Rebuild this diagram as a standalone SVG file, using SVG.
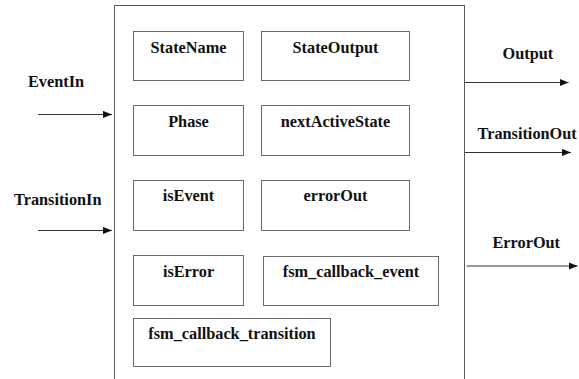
<svg xmlns="http://www.w3.org/2000/svg" width="579" height="379" viewBox="0 0 579 379">
  <defs>
    <marker id="arrow" viewBox="0 0 10 8" refX="10" refY="4" markerWidth="9" markerHeight="8" markerUnits="userSpaceOnUse" orient="auto">
      <path d="M0,0 L10,4 L0,8 Z" fill="#111"/>
    </marker>
    <style>
      .lbl { font-family: 'Liberation Serif', 'Times New Roman', serif; font-weight: bold; font-size: 16.3px; fill: #111; }
      .box { fill: #fff; stroke: #6b6b6b; stroke-width: 1; }
      .frame { fill: #fff; stroke: #5a5a5a; stroke-width: 1; }
      .wire { stroke: #333; stroke-width: 1; fill: none; marker-end: url(#arrow); }
      .mid { text-anchor: middle; }
    </style>
  </defs>

  <rect width="579" height="379" fill="#fff"/>

  <!-- FSM block outline, open at the bottom edge -->
  <g id="fsm">
    <rect class="frame" x="114.5" y="5.5" width="350" height="400"/>
  </g>

  <g id="stateName">
    <rect class="box" x="133.5" y="31.5" width="110" height="49"/>
    <text class="lbl mid" x="188.5" y="52.5">StateName</text>
  </g>
  <g id="stateOutput">
    <rect class="box" x="261.5" y="31.5" width="148" height="49"/>
    <text class="lbl mid" x="335.5" y="52.5">StateOutput</text>
  </g>
  <g id="phase">
    <rect class="box" x="133.5" y="105.5" width="110" height="50"/>
    <text class="lbl mid" x="188.5" y="127">Phase</text>
  </g>
  <g id="nextActiveState">
    <rect class="box" x="261.5" y="105.5" width="148" height="50"/>
    <text class="lbl mid" x="335.5" y="127">nextActiveState</text>
  </g>
  <g id="isEvent">
    <rect class="box" x="133.5" y="180.5" width="110" height="50"/>
    <text class="lbl mid" x="188.5" y="201">isEvent</text>
  </g>
  <g id="errorOut">
    <rect class="box" x="261.5" y="180.5" width="148" height="50"/>
    <text class="lbl mid" x="335.5" y="201">errorOut</text>
  </g>
  <g id="isError">
    <rect class="box" x="133.5" y="255.5" width="110" height="50"/>
    <text class="lbl mid" x="188.5" y="276.5">isError</text>
  </g>
  <g id="fsmCallbackEvent">
    <rect class="box" x="263.5" y="256.5" width="175" height="49"/>
    <text class="lbl mid" x="351" y="276.5">fsm_callback_event</text>
  </g>
  <g id="fsmCallbackTransition">
    <rect class="box" x="133.5" y="318.5" width="197" height="48"/>
    <text class="lbl mid" x="232" y="338.5">fsm_callback_transition</text>
  </g>

  <!-- port labels -->
  <g id="ports">
    <text class="lbl" x="28" y="87">EventIn</text>
    <text class="lbl" x="14" y="205">TransitionIn</text>
    <text class="lbl" x="502.5" y="58.5">Output</text>
    <text class="lbl" x="477.5" y="139">TransitionOut</text>
    <text class="lbl" x="492.5" y="247.5">ErrorOut</text>
  </g>

  <!-- connectors -->
  <g id="connectors">
    <line class="wire" x1="38" y1="114.5" x2="112" y2="114.5"/>
    <line class="wire" x1="38" y1="230.5" x2="112" y2="230.5"/>
    <line class="wire" x1="465" y1="82.5" x2="568.5" y2="82.5"/>
    <line class="wire" x1="465" y1="152.5" x2="571" y2="152.5"/>
    <line class="wire" x1="466.5" y1="266" x2="577.5" y2="266"/>
  </g>
</svg>
